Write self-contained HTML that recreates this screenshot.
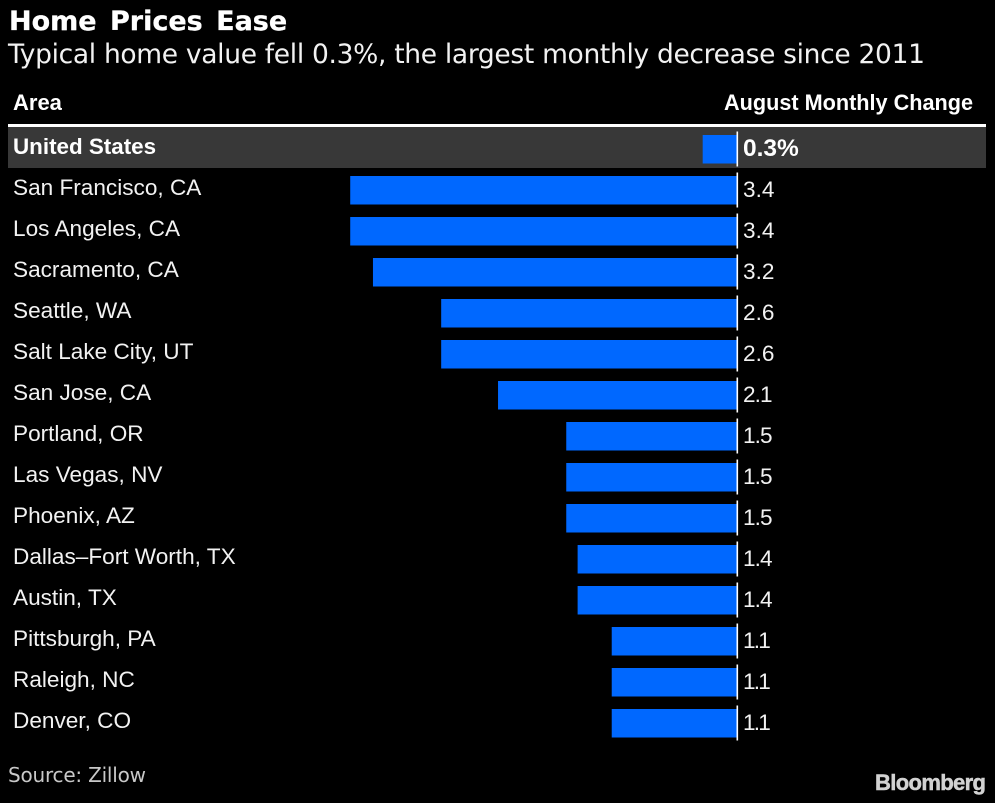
<!DOCTYPE html>
<html lang="en">
<head>
<meta charset="utf-8">
<title>Home Prices Ease</title>
<style>
html,body{margin:0;padding:0;background:#000;width:995px;height:803px;overflow:hidden}
svg{display:block}
text{font-family:"Liberation Sans",Arial,sans-serif;fill:#f2f2f2}
.dv{font-family:"DejaVu Sans",sans-serif}
</style>
</head>
<body>
<svg id="chart" xmlns="http://www.w3.org/2000/svg" width="995" height="803" viewBox="0 0 995 803">
  <rect x="0" y="0" width="995" height="803" fill="#000"/>
  <text class="dv" x="9" y="30" font-size="27" font-weight="700" style="fill:#fff;word-spacing:4px" stroke="#fff" stroke-width="0.3">Home Prices Ease</text>
  <text class="dv" x="8" y="63" font-size="26.5" textLength="917" lengthAdjust="spacing">Typical home value fell 0.3%, the largest monthly decrease since 2011</text>
  <text x="13" y="110" font-size="22" font-weight="700" style="fill:#fff">Area</text>
  <text x="724" y="110" font-size="22.5" font-weight="700" style="fill:#fff" textLength="249" lengthAdjust="spacingAndGlyphs">August Monthly Change</text>
  <rect x="8" y="124" width="978" height="3" fill="#fff"/>
  <rect x="8" y="127" width="978" height="41" fill="#383838"/>
  <g id="rows"></g>
  <text class="dv" x="8" y="782" font-size="20" style="fill:#c8c8c8" textLength="138" lengthAdjust="spacing">Source: Zillow</text>
  <text x="875" y="790" font-size="22" font-weight="700" style="fill:#d2d2d2" stroke="#d2d2d2" stroke-width="0.5" textLength="111" lengthAdjust="spacing">Bloomberg</text>
</svg>
<script>
const categories = ["United States","San Francisco, CA","Los Angeles, CA","Sacramento, CA","Seattle, WA","Salt Lake City, UT","San Jose, CA","Portland, OR","Las Vegas, NV","Phoenix, AZ","Dallas–Fort Worth, TX","Austin, TX","Pittsburgh, PA","Raleigh, NC","Denver, CO"];
const values = [0.3,3.4,3.4,3.2,2.6,2.6,2.1,1.5,1.5,1.5,1.4,1.4,1.1,1.1,1.1];
const valueLabels = ["0.3%","3.4","3.4","3.2","2.6","2.6","2.1","1.5","1.5","1.5","1.4","1.4","1.1","1.1","1.1"];

const NS = "http://www.w3.org/2000/svg";
const zeroX = 736.8;
const unitWidth = 113.7;
const xScale = v => zeroX - v * unitWidth;
const rowScale = i => 135 + i * 41;
const rowsGroup = document.getElementById("rows");

function make(tag, attrs, text) {
  const el = document.createElementNS(NS, tag);
  for (const k in attrs) el.setAttribute(k, attrs[k]);
  if (text !== undefined) el.textContent = text;
  return el;
}

categories.forEach((name, i) => {
  const top = rowScale(i);
  const bold = i === 0;

  const label = make("text", {x: 13, y: top + 19, "font-size": bold ? 22.4 : 22.6, "font-weight": bold ? 700 : 400}, name);
  
  
  if (bold) label.style.fill = "#fff";
  rowsGroup.appendChild(label);

  const left = xScale(values[i]);
  const bar = make("rect", {x: left, y: top, width: zeroX - left, height: 28.5, fill: "#0068ff"});
  
  
  rowsGroup.appendChild(bar);

  const axis = make("rect", {x: 736.5, y: top - 3.5, width: 1.6, height: 35, fill: "#fff"});
  
  
  rowsGroup.appendChild(axis);

  const ones = valueLabels[i].split("1").length - 1;
  const value = make("text", {x: 743, y: top + 21, "font-size": bold ? 24.5 : 22.6, "font-weight": bold ? 700 : 400}, valueLabels[i]);
  
  
  value.style.letterSpacing = (-0.9 * ones) + "px";
  if (bold) value.style.fill = "#fff";
  rowsGroup.appendChild(value);
});
</script>
</body>
</html>
